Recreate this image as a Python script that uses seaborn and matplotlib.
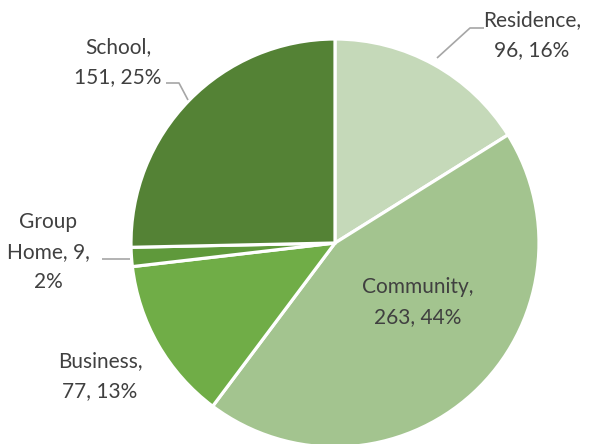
import matplotlib
matplotlib.use("Agg")
import matplotlib.pyplot as plt
import seaborn as sns

# Placement categories and counts, clockwise from 12 o'clock
categories = ["Residence", "Community", "Business", "Group Home", "School"]
counts = [96, 263, 77, 9, 151]
colors = ["#c5d9b9", "#a3c48f", "#70ad47", "#5f993b", "#548235"]

# Label text broken into lines as it is set around the pie
label_lines = [
    ["Residence,", "{n}, {p}%"],
    ["Community,", "{n}, {p}%"],
    ["Business,", "{n}, {p}%"],
    ["Group", "Home, {n},", "{p}%"],
    ["School,", "{n}, {p}%"],
]

sns.set_theme(style="white")
plt.rcParams["font.family"] = ["Lato", "DejaVu Sans"]

W, H = 591, 444
fig = plt.figure(figsize=(W / 100, H / 100), dpi=100)
ax = fig.add_axes([0, 0, 1, 1])

cx, cy, r = 335, H - 243, 204
ax.pie(counts, colors=colors, startangle=90, counterclock=False,
       center=(cx, cy), radius=r,
       wedgeprops=dict(edgecolor="white", linewidth=2.3))
ax.set_xlim(0, W)
ax.set_ylim(0, H)
ax.set_aspect("equal")
ax.axis("off")

total = sum(counts)
text_color = "#404040"
line_color = "#a6a6a6"

# label anchor (x, y of centre, px from top) per category
anchors = [(532, 35), (418, 302), (100, 376), (48, 252), (118, 62)]
for lines, n, (x, y) in zip(label_lines, counts, anchors):
    pct = round(100 * n / total)
    txt = "\n".join(l.format(n=n, p=pct) for l in lines)
    ax.text(x, H - y, txt, ha="center", va="center", fontsize=15,
            color=text_color, linespacing=1.62)

# leader lines (px from top)
leaders = [
    [(437, 58), (470, 28), (484, 28)],
    [(102, 259), (130, 259)],
    [(166, 83), (179, 83), (188, 100)],
]
for pts in leaders:
    xs = [p[0] for p in pts]
    ys = [H - p[1] for p in pts]
    ax.plot(xs, ys, color=line_color, linewidth=1.2, solid_capstyle="butt")

fig.savefig("out.png", dpi=100)
